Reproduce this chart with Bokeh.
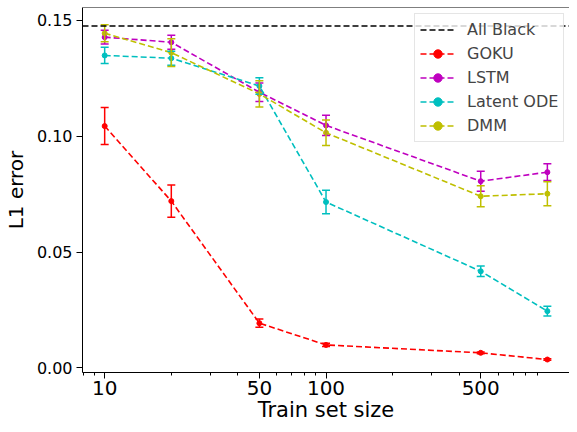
import numpy as np
from bokeh.plotting import figure
from bokeh.models import (ColumnDataSource, Whisker, TeeHead, FixedTicker, Span,
                          Legend, LegendItem, Range1d, NumeralTickFormatter)
from bokeh.embed import file_html
from bokeh.resources import INLINE

# ---- data ----
train_sizes = [10, 20, 50, 100, 500, 1000]
goku = [0.1044, 0.0720, 0.0193, 0.0099, 0.0065, 0.0036]
goku_err = [0.0080, 0.0070, 0.0018, 0.0007, 0.0004, 0.0003]
lstm = [0.1428, 0.1406, 0.1190, 0.1047, 0.0806, 0.0845]
lstm_err = [0.0030, 0.0030, 0.0040, 0.0044, 0.0043, 0.0036]
latent_ode = [0.1349, 0.1337, 0.1217, 0.0716, 0.0417, 0.0245]
latent_ode_err = [0.0035, 0.0030, 0.0036, 0.0051, 0.0023, 0.0021]
dmm = [0.1445, 0.1361, 0.1183, 0.1015, 0.0741, 0.0752]
dmm_err = [0.0037, 0.0060, 0.0057, 0.0055, 0.0045, 0.0052]
all_black = 0.1476

series_names = ["GOKU", "LSTM", "Latent ODE", "DMM"]
series_vals = [goku, lstm, latent_ode, dmm]
series_errs = [goku_err, lstm_err, latent_ode_err, dmm_err]
series_colors = ["#ff0000", "#bf00bf", "#00bfbf", "#bfbf00"]

x_ticks = [10, 50, 100, 500]
x_minor = [8, 9, 20, 30, 40, 60, 70, 80, 90, 200, 300, 400, 600, 700, 800, 900]
y_ticks = [0.0, 0.05, 0.10, 0.15]

FONT = "DejaVu Sans"
DASH = "6 3"
Y_TOP = 0.1556

p = figure(width=569, height=424, x_axis_type="log",
           x_range=Range1d(7.94, 1259), y_range=Range1d(-0.0020, Y_TOP),
           output_backend="svg", toolbar_location=None,
           min_border_left=75, min_border_right=0, min_border_top=7,
           min_border_bottom=52)
p.outline_line_color = None
p.grid.visible = False
p.background_fill_color = "white"

# top spine
p.add_layout(Span(location=Y_TOP, dimension="width", line_color="black", line_width=1))

# All Black reference line
p.add_layout(Span(location=all_black, dimension="width", line_color="black",
                  line_width=1.6, line_dash=DASH))
ab_legend = p.line(x=[train_sizes[0]], y=[all_black], line_color="black",
                   line_width=1.6, line_dash=DASH)

items = [LegendItem(label="All Black", renderers=[ab_legend])]

for name, vals, errs, col in zip(series_names, series_vals, series_errs, series_colors):
    src = ColumnDataSource(dict(
        x=train_sizes, y=vals,
        upper=[v + e for v, e in zip(vals, errs)],
        lower=[v - e for v, e in zip(vals, errs)]))
    ln = p.line("x", "y", source=src, line_color=col, line_width=1.6, line_dash=DASH)
    wk = Whisker(source=src, base="x", upper="upper", lower="lower", dimension="height",
                 line_color=col, line_width=1.5, level="glyph",
                 upper_head=TeeHead(size=8, line_color=col, line_width=1.5),
                 lower_head=TeeHead(size=8, line_color=col, line_width=1.5))
    p.add_layout(wk)
    bar = p.scatter("x", "y", source=src, marker="dash", angle=np.pi / 2, size=1,
                    line_color=col, line_width=1.5)
    pts = p.scatter("x", "y", source=src, marker="circle", size=5,
                    fill_color=col, line_color=col)
    items.append(LegendItem(label=name, renderers=[ln, bar, pts]))

legend = Legend(items=items, location=(332, 230), padding=5, spacing=3,
                glyph_width=35, glyph_height=21, label_height=21, label_standoff=12,
                label_text_font=FONT, label_text_font_size="16px",
                border_line_color="#cccccc", border_line_width=1,
                background_fill_color="white", background_fill_alpha=0.8)
p.add_layout(legend)

# axes
xa = p.xaxis[0]
xa.ticker = FixedTicker(ticks=x_ticks, minor_ticks=x_minor)
xa.formatter = NumeralTickFormatter(format="0")
xa.axis_label = "Train set size"
ya = p.yaxis[0]
ya.ticker = FixedTicker(ticks=y_ticks)
ya.formatter = NumeralTickFormatter(format="0.00")
ya.axis_label = "L1 error"

for ax in (xa, ya):
    ax.axis_line_color = "black"
    ax.axis_line_width = 1
    ax.major_tick_line_color = "black"
    ax.minor_tick_line_color = "black"
    ax.major_tick_in = 0
    ax.major_tick_out = 6
    ax.minor_tick_in = 0
    ax.minor_tick_out = 3
    ax.major_label_text_font = FONT
    ax.major_label_text_color = "black"
    ax.axis_label_text_font = FONT
    ax.axis_label_text_font_style = "normal"
    ax.axis_label_text_color = "black"
xa.axis_label_text_font_size = "21px"
ya.axis_label_text_font_size = "20px"
xa.major_label_text_font_size = "20px"
ya.major_label_text_font_size = "16px"
xa.major_label_standoff = 2
ya.major_label_standoff = 4
xa.axis_label_standoff = 0
ya.axis_label_standoff = 6

open("out.html", "w").write(file_html(p, INLINE))
